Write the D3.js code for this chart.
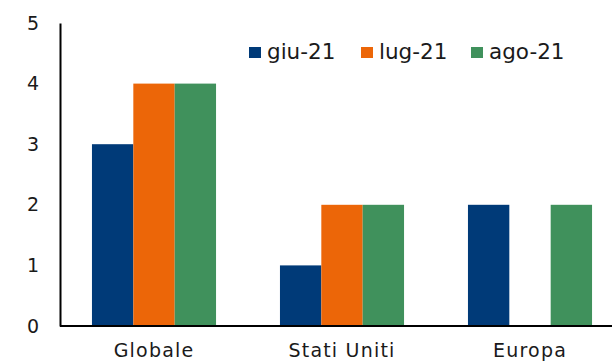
<!DOCTYPE html>
<html>
<head>
<meta charset="utf-8">
<script src="https://cdn.jsdelivr.net/npm/d3@7"></script>
<style>
  html, body { margin: 0; padding: 0; background: #fff; }
  svg { display: block; font-family: "DejaVu Sans", sans-serif; }
</style>
</head>
<body>
<svg id="chart" width="612" height="363"></svg>
<script>
// Regions on the x axis
const categories = ["Globale", "Stati Uniti", "Europa"];
// Monthly series
const seriesNames = ["giu-21", "lug-21", "ago-21"];
const giu21 = [3, 1, 2];
const lug21 = [4, 2, 0];
const ago21 = [4, 2, 2];
const colors = ["#003A78", "#EC6608", "#40915C"];
const yTicks = [0, 1, 2, 3, 4, 5];

const series = [giu21, lug21, ago21];

const svg = d3.select("#chart");
const margin = { left: 60, top: 22, bottom: 37 };
const plotRight = 624;
const height = 363;
const fontFamily = "'DejaVu Sans', sans-serif";
const textColor = "#1a1a1a";

const x0 = d3.scaleBand()
  .domain(categories)
  .range([margin.left, plotRight])
  .paddingInner(0.34)
  .paddingOuter(0.17);

const x1 = d3.scaleBand()
  .domain(seriesNames)
  .range([0, x0.bandwidth()])
  .padding(0);

const y = d3.scaleLinear()
  .domain([0, 5])
  .range([height - margin.bottom, margin.top + 1]);

// Bars
categories.forEach((cat, ci) => {
  svg.append("g")
    .attr("transform", `translate(${x0(cat)},0)`)
    .selectAll("rect")
    .data(seriesNames.map((s, si) => ({ s, v: series[si][ci], c: colors[si] })))
    .join("rect")
    .attr("x", d => x1(d.s))
    .attr("width", x1.bandwidth())
    .attr("y", d => y(d.v))
    .attr("height", d => y(0) - y(d.v))
    .attr("fill", d => d.c);
});

// Y axis
const yAxis = d3.axisLeft(y).tickValues(yTicks).tickFormat(d3.format("d"))
  .tickSize(0).tickPadding(21);
const gy = svg.append("g").attr("transform", `translate(${margin.left},0)`).call(yAxis);
gy.select(".domain").attr("stroke", "#000").attr("stroke-width", 2);
gy.selectAll("text").attr("font-size", 19).attr("fill", textColor)
  .style("font-family", fontFamily);

// X axis
const xAxis = d3.axisBottom(x0).tickSize(0).tickPadding(18);
const gx = svg.append("g").attr("transform", `translate(0,${y(0)})`).call(xAxis);
gx.select(".domain").attr("stroke", "#000").attr("stroke-width", 2)
  .attr("d", `M${margin.left},0H612`);
gx.selectAll("text").attr("font-size", 19).attr("fill", textColor)
  .attr("letter-spacing", 1.2)
  .style("font-family", fontFamily);

// Legend
const legendX = [249, 361, 471];
const legend = svg.append("g");
seriesNames.forEach((s, i) => {
  legend.append("rect")
    .attr("x", legendX[i]).attr("y", 47)
    .attr("width", 12).attr("height", 11)
    .attr("fill", colors[i]);
  legend.append("text")
    .attr("x", legendX[i] + 18).attr("y", 59)
    .attr("font-size", 21.5)
    .attr("fill", textColor)
    .style("font-family", fontFamily)
    .text(s);
});
</script>
</body>
</html>
